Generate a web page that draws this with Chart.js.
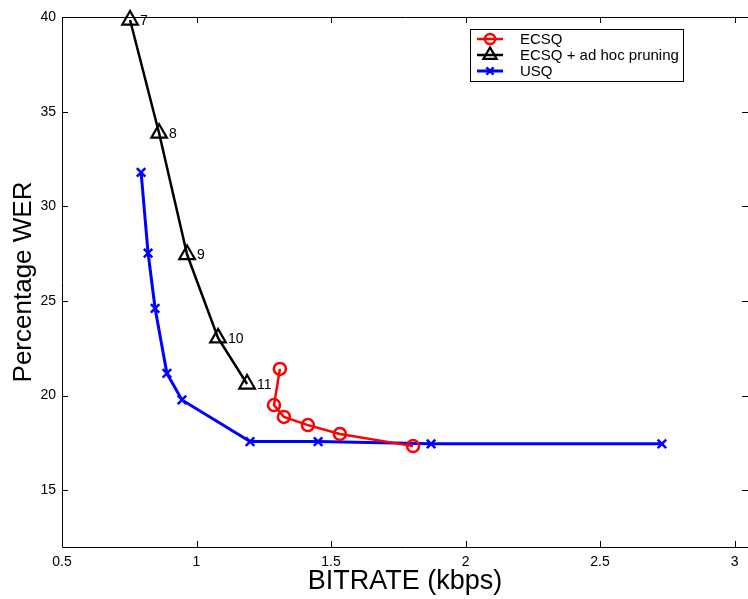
<!DOCTYPE html>
<html>
<head>
<meta charset="utf-8">
<script src="https://cdn.jsdelivr.net/npm/chart.js@4.4.1/dist/chart.umd.min.js"></script>
<style>
  html, body { margin: 0; padding: 0; background: #fff; }
  #wrap { width: 748px; height: 599px; }
</style>
</head>
<body>
<div id="wrap"><canvas id="c" width="748" height="599"></canvas></div>
<script>
// values
const bitrateEcsq = [1.310, 1.288, 1.325, 1.414, 1.533, 1.805];
const werEcsq     = [21.41, 19.50, 18.87, 18.44, 17.97, 17.33];

const bitratePruned = [0.753, 0.861, 0.965, 1.080, 1.188];
const werPruned     = [39.84, 33.86, 27.45, 23.05, 20.61];
const prunedLabels  = ['7', '8', '9', '10', '11'];

const bitrateUsq = [0.794, 0.820, 0.846, 0.890, 0.946, 1.199, 1.452, 1.872, 2.730];
const werUsq     = [31.79, 27.53, 24.61, 21.17, 19.77, 17.57, 17.57, 17.45, 17.45];

const xTicks = [0.5, 1, 1.5, 2, 2.5, 3];
const yTicks = [15, 20, 25, 30, 35, 40];

const seriesNames = ['ECSQ', 'ECSQ + ad hoc pruning', 'USQ'];

const FONT = "'Liberation Sans', Arial, Helvetica, sans-serif";

function toPoints(xs, ys) {
    return xs.map((x, i) => ({ x: x, y: ys[i] }));
}

// MATLAB style box with inward ticks, point labels and legend
const matlabAxes = {
    id: 'matlabAxes',
    beforeDatasetsDraw(chart) {
        const { ctx, chartArea: a, scales } = chart;
        const tl = 6;
        ctx.save();
        ctx.strokeStyle = '#000';
        ctx.lineWidth = 1;
        ctx.beginPath();
        ctx.rect(a.left + 0.5, a.top + 0.5, a.right - a.left, a.bottom - a.top);
        xTicks.forEach(v => {
            const px = Math.round(scales.x.getPixelForValue(v)) + 0.5;
            ctx.moveTo(px, a.bottom); ctx.lineTo(px, a.bottom - tl);
            ctx.moveTo(px, a.top); ctx.lineTo(px, a.top + tl);
        });
        yTicks.forEach(v => {
            const py = Math.round(scales.y.getPixelForValue(v)) + 0.5;
            ctx.moveTo(a.left, py); ctx.lineTo(a.left + tl, py);
            ctx.moveTo(a.right, py); ctx.lineTo(a.right - tl, py);
        });
        ctx.stroke();
        ctx.restore();
    },
    afterDraw(chart) {
        const { ctx, scales } = chart;
        ctx.save();

        // rate labels beside the pruning triangles
        ctx.font = '14px ' + FONT;
        ctx.fillStyle = '#000';
        ctx.textAlign = 'left';
        ctx.textBaseline = 'middle';
        bitratePruned.forEach((x, i) => {
            const px = scales.x.getPixelForValue(x);
            const py = scales.y.getPixelForValue(werPruned[i]);
            ctx.fillText(prunedLabels[i], px + 10, py + 1);
        });

        // legend
        const lx = 470, ly = 29, lw = 213, lh = 52;
        ctx.fillStyle = '#fff';
        ctx.fillRect(lx, ly, lw, lh);
        ctx.strokeStyle = '#000';
        ctx.lineWidth = 1;
        ctx.strokeRect(lx + 0.5, ly + 0.5, lw, lh);

        const rowY = [39, 55, 71];
        chart.data.datasets.forEach((ds, i) => {
            const y = rowY[i];
            ctx.strokeStyle = ds.borderColor;
            ctx.lineWidth = ds.borderWidth;
            ctx.beginPath();
            ctx.moveTo(477, y);
            ctx.lineTo(503, y);
            ctx.stroke();
            ctx.fillStyle = ds.pointBackgroundColor;
            ctx.strokeStyle = ds.pointBorderColor;
            ctx.lineWidth = ds.pointBorderWidth;
            Chart.helpers.drawPoint(ctx, {
                pointStyle: ds.pointStyle,
                radius: ds.pointRadius * 0.85,
                borderWidth: ds.pointBorderWidth,
                rotation: 0
            }, 490, y);
            ctx.fillStyle = '#000';
            ctx.font = '15px ' + FONT;
            ctx.textAlign = 'left';
            ctx.textBaseline = 'middle';
            ctx.fillText(seriesNames[i], 520, y + 1);
        });
        ctx.restore();
    }
};

new Chart(document.getElementById('c'), {
    type: 'scatter',
    data: {
        datasets: [
            {
                label: seriesNames[0],
                data: toPoints(bitrateEcsq, werEcsq),
                showLine: true,
                borderColor: '#ff0000',
                backgroundColor: 'rgba(0,0,0,0)',
                borderWidth: 2.5,
                pointStyle: 'circle',
                pointRadius: 6,
                pointBorderWidth: 2.5,
                pointBackgroundColor: 'rgba(0,0,0,0)',
                pointBorderColor: '#ff0000',
                clip: false,
                order: 1
            },
            {
                label: seriesNames[1],
                data: toPoints(bitratePruned, werPruned),
                showLine: true,
                borderColor: '#000000',
                backgroundColor: 'rgba(0,0,0,0)',
                borderWidth: 2.5,
                pointStyle: 'triangle',
                pointRadius: 9,
                pointBorderWidth: 2.2,
                pointBackgroundColor: 'rgba(0,0,0,0)',
                pointBorderColor: '#000000',
                clip: false,
                order: 2
            },
            {
                label: seriesNames[2],
                data: toPoints(bitrateUsq, werUsq),
                showLine: true,
                borderColor: '#0000ff',
                backgroundColor: 'rgba(0,0,0,0)',
                borderWidth: 3,
                pointStyle: 'crossRot',
                pointRadius: 6,
                pointBorderWidth: 2.5,
                pointBackgroundColor: '#0000ff',
                pointBorderColor: '#0000ff',
                clip: false,
                order: 3
            }
        ]
    },
    options: {
        responsive: false,
        animation: false,
        devicePixelRatio: 1,
        layout: { autoPadding: false, padding: { top: 17, right: 0, left: 0, bottom: 0 } },
        plugins: {
            legend: { display: false },
            tooltip: { enabled: false }
        },
        scales: {
            x: {
                type: 'linear',
                min: 0.5,
                max: 3.05,
                afterBuildTicks: (scale) => { scale.ticks = xTicks.map(v => ({ value: v })); },
                afterFit: (scale) => {
                    scale.height = 52;
                    scale.paddingRight = 0;
                    scale.paddingLeft = 0;
                },
                grid: { display: false, drawTicks: false },
                border: { display: false },
                ticks: {
                    color: '#000',
                    padding: 7,
                    font: { family: FONT, size: 14 },
                    callback: (v) => String(v)
                },
                title: {
                    display: true,
                    text: 'BITRATE (kbps)',
                    color: '#000',
                    font: { family: FONT, size: 27 },
                    padding: { top: 0, bottom: 1 }
                }
            },
            y: {
                type: 'linear',
                min: 12,
                max: 40,
                afterBuildTicks: (scale) => { scale.ticks = yTicks.map(v => ({ value: v })); },
                afterFit: (scale) => { scale.width = 62; },
                grid: { display: false, drawTicks: false },
                border: { display: false },
                ticks: {
                    color: '#000',
                    padding: 6,
                    font: { family: FONT, size: 14 },
                    callback: (v) => String(v)
                },
                title: {
                    display: true,
                    text: 'Percentage WER',
                    color: '#000',
                    font: { family: FONT, size: 26 },
                    padding: { top: 8, bottom: 0 }
                }
            }
        }
    },
    plugins: [matlabAxes]
});
</script>
</body>
</html>
